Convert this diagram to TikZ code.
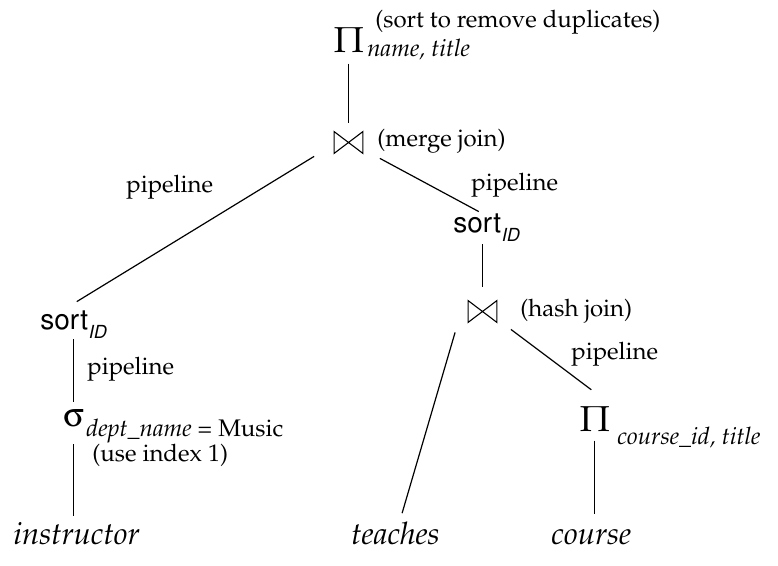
\documentclass[tikz,border=0pt]{standalone}
\usepackage[T1]{fontenc}
\usepackage{amssymb}
\usepackage{mathpazo}
\usepackage{helvet}
\usepackage[Symbol]{upgreek}

\newcommand{\sortid}{{\sffamily\fontsize{14}{16}\selectfont sort}\raisebox{-4.5pt}{\sffamily\slshape\fontsize{9}{11}\selectfont ID}}

\begin{document}
\begin{tikzpicture}[x=0.5pt,y=-0.5pt,
  lbl/.style={inner sep=0pt,anchor=base west,font=\fontsize{12}{14}\selectfont},
  sub/.style={lbl,font=\fontsize{12}{14}\selectfont\itshape},
  rel/.style={inner sep=0pt,anchor=base west,font=\fontsize{15.5}{17}\selectfont\itshape},
  bigop/.style={inner sep=0pt,anchor=base west,font=\fontsize{18}{20}\selectfont},
  joinop/.style={inner sep=0pt,minimum width=14pt,minimum height=10.5pt},
  tie/.style={line width=0.55pt,line join=miter},
  edge/.style={line width=0.6pt}]
\useasboundingbox (0,0) rectangle (778,566);
% Top projection
\node[bigop] (ptop) at (333,53) {$\Pi$};
\node[sub] (ptopsub) at (367,57) {name, title};
\node[lbl] (ptopnote) at (375,28) {(sort to remove duplicates)};
% Merge join
\node[joinop] (mj) at (348.5,142.5) {};
\draw[tie] (mj.north west) -- (mj.south west) -- (mj.north east) -- (mj.south east) -- cycle;
\node[lbl] (mjnote) at (377,147) {(merge join)};
% Left branch
\node[inner sep=0pt,anchor=base west] (lsort) at (40,330) {\sortid};
\node[inner sep=0pt,anchor=base west,font=\fontsize{17}{19}\selectfont] (sg) at (63,427) {$\upsigma$};
\node[lbl] (sgsub) at (86,437) {{\itshape dept\_name} = Music};
\node[lbl] (sgnote) at (92,462) {(use index 1)};
\node[rel] (instr) at (13,545) {instructor};
% Right branch
\node[inner sep=0pt,anchor=base west] (rsort) at (453,233) {\sortid};
\node[joinop] (hj) at (482.5,311.5) {};
\draw[tie] (hj.north west) -- (hj.south west) -- (hj.north east) -- (hj.south east) -- cycle;
\node[lbl] (hjnote) at (520,317) {(hash join)};
\node[bigop] (pc) at (579,432) {$\Pi$};
\node[sub] (pcsub) at (617,445) {course\_id, title};
\node[rel] (teach) at (351,545) {teaches};
\node[rel] (crs) at (551,545) {course};
% Pipeline labels
\node[lbl] (pl1) at (126,193) {pipeline};
\node[lbl] (pl2) at (471,191) {pipeline};
\node[lbl] (pl3) at (87,375) {pipeline};
\node[lbl] (pl4) at (571,360) {pipeline};
% Edges
\draw[edge,shorten <=5pt,shorten >=4.5pt] (mj.north |- ptop.south) -- (mj.north);
\draw[edge] ([xshift=-10pt,yshift=-1.5pt]mj.south west) -- ([xshift=1.75pt,yshift=4.5pt]lsort.north);
\draw[edge] ([xshift=8.5pt,yshift=-2.5pt]mj.south east) -- ([xshift=-3.75pt,yshift=1pt]rsort.north);
\draw[edge,shorten <=1pt,shorten >=7pt] (hj.north |- rsort.south) -- (hj.north);
\draw[edge] ([xshift=-6.5pt,yshift=-5pt]hj.south west) -- ([xshift=3.25pt,yshift=4.5pt]teach.north);
\draw[edge] ([xshift=7pt,yshift=-3.5pt]hj.south east) -- ([xshift=-1.75pt,yshift=8.5pt]pc.north);
\draw[edge,shorten <=4pt,shorten >=7.5pt] (pc.south) -- (pc.south |- crs.north);
\draw[edge,shorten <=0pt,shorten >=3.5pt] (sg.north |- lsort.south) -- (sg.north);
\draw[edge,shorten <=8pt,shorten >=3pt] (sg.south) -- (sg.south |- instr.north);
\end{tikzpicture}
\end{document}
